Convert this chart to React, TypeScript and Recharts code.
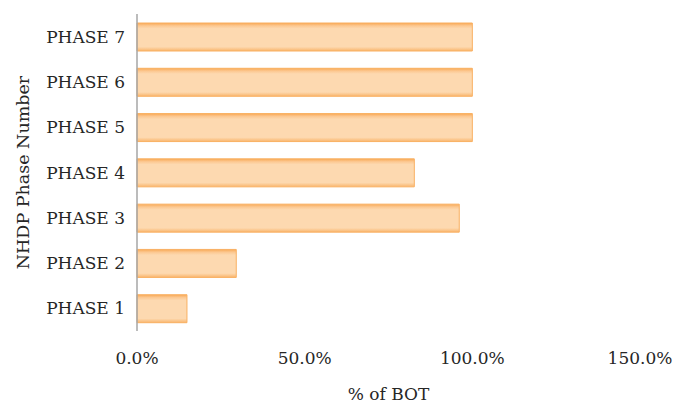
import { BarChart, Bar, XAxis, YAxis } from 'recharts'

const phases = ['PHASE 1', 'PHASE 2', 'PHASE 3', 'PHASE 4', 'PHASE 5', 'PHASE 6', 'PHASE 7']
const botShare = [0.149, 0.296, 0.961, 0.827, 1.0, 1.0, 1.0]
const xTicks = [0, 0.5, 1, 1.5]

const data = phases.map((phase, i) => ({ phase, bot: botShare[i] }))

const FONT = '"DejaVu Serif", serif'
const FS = 17
const TEXT = '#262626'

const pct = (v: number) => `${(v * 100).toFixed(1)}%`

function YTitle({ viewBox }: any) {
  const cx = viewBox.x + 23
  const cy = viewBox.y + viewBox.height / 2
  return (
    <text x={cx} y={cy} transform={`rotate(-90 ${cx} ${cy})`} textAnchor="middle" dominantBaseline="central"
      fontFamily={FONT} fontSize={FS + 0.5} fill={TEXT}>
      NHDP Phase Number
    </text>
  )
}

function XTitle({ viewBox }: any) {
  const cx = viewBox.x + viewBox.width / 2
  return (
    <text x={cx} y={viewBox.y + 63} textAnchor="middle" dominantBaseline="central"
      fontFamily={FONT} fontSize={FS} fill={TEXT}>
      % of BOT
    </text>
  )
}

export default function App() {
  return (
    <div style={{ position: 'absolute', left: 0, top: 0, width: 691, height: 407, background: '#fff' }}>
      <BarChart
        width={691}
        height={407}
        data={data}
        layout="vertical"
        margin={{ top: 14, right: 51, bottom: 0, left: 0 }}
        barSize={28}
      >
        <defs>
          <linearGradient id="barFill" x1="0" y1="0" x2="0" y2="1">
            <stop offset="0%" stopColor="#f8a955" />
            <stop offset="10%" stopColor="#fcc891" />
            <stop offset="20%" stopColor="#fdd9b0" />
            <stop offset="85%" stopColor="#fdd9b0" />
            <stop offset="100%" stopColor="#f9b56c" />
          </linearGradient>
        </defs>
        <XAxis
          type="number"
          domain={[0, 1.5]}
          ticks={xTicks}
          tickFormatter={pct}
          axisLine={false}
          tickLine={false}
          tickSize={0}
          tickMargin={21}
          height={76}
          tick={{ fontFamily: FONT, fontSize: FS, fill: TEXT }}
          label={<XTitle />}
        />
        <YAxis
          type="category"
          dataKey="phase"
          reversed
          width={137}
          axisLine={{ stroke: '#a6a6a6', strokeWidth: 1.5 }}
          tickLine={false}
          tickSize={0}
          tickMargin={12}
          tick={{ fontFamily: FONT, fontSize: FS, fill: TEXT }}
          label={<YTitle />}
        />
        <Bar dataKey="bot" fill="url(#barFill)" stroke="#f9b062" strokeWidth={1} isAnimationActive={false} />
      </BarChart>
    </div>
  )
}
